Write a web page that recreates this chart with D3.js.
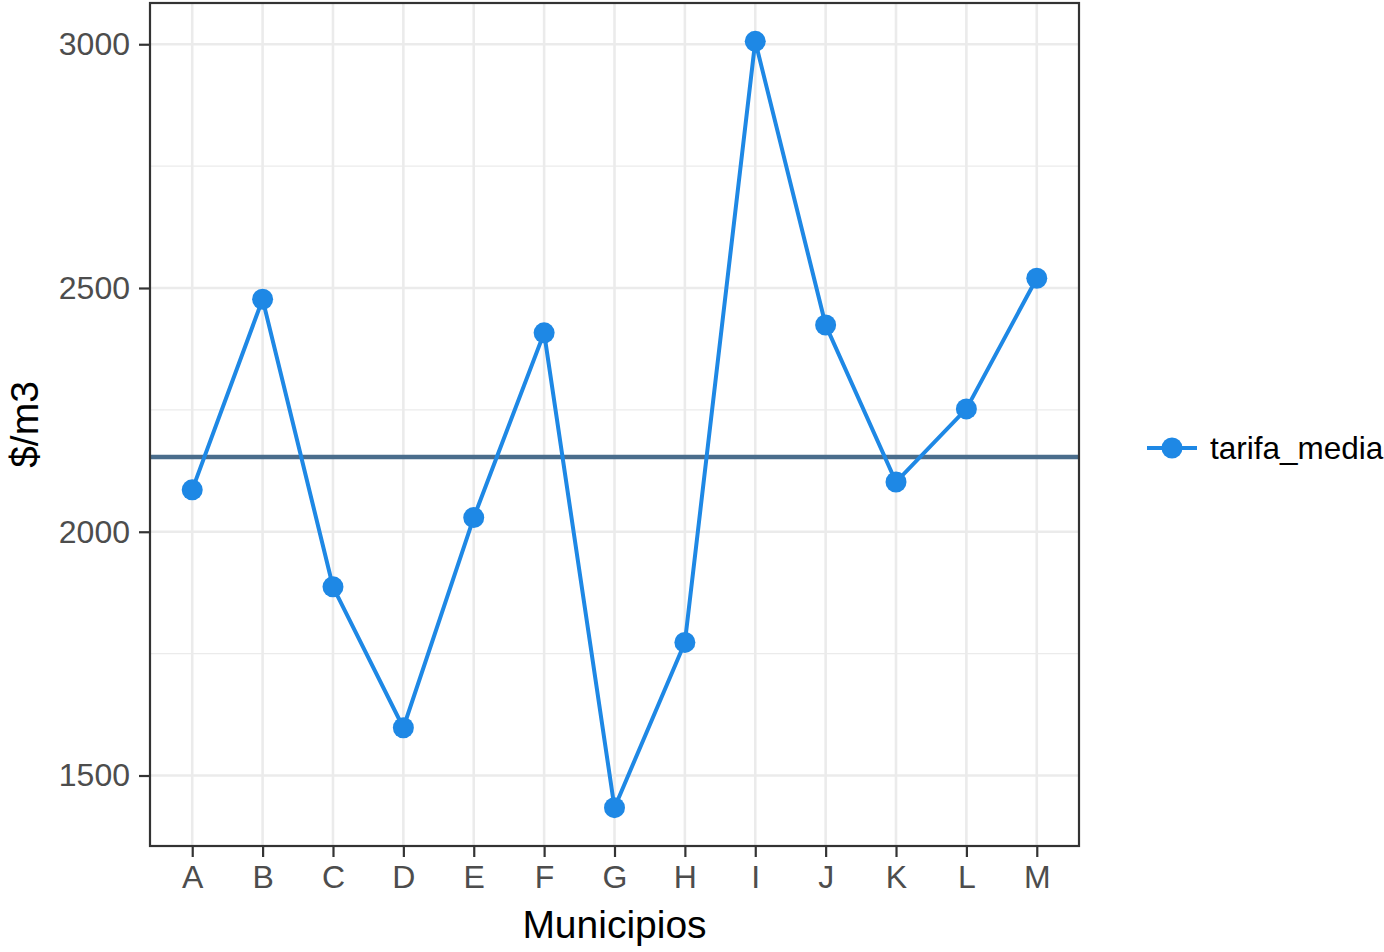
<!DOCTYPE html>
<html><head><meta charset="utf-8">
<script src="https://cdn.jsdelivr.net/npm/d3@7"></script>
<style>body{margin:0;background:#fff}svg{display:block}</style>
</head><body><svg id="c" width="1384" height="952"></svg>
<script>
const categories = ["A","B","C","D","E","F","G","H","I","J","K","L","M"];
const tarifa = [2086,2477,1887,1598,2029,2408,1434,1773,3006,2424,2102,2252,2520];
const yTicks = [1500,2000,2500,3000];
const yMinor = [1750,2250,2750];
const seriesName = "tarifa_media";
const meanValue = d3.mean(tarifa);

const svg = d3.select("#c");
const L=150, R=1079, T=3, B=846;
const x = d3.scalePoint().domain(categories).range([L,R]).padding(0.6);
const ext = d3.extent(tarifa), pad=(ext[1]-ext[0])*0.05;
const y = d3.scaleLinear().domain([ext[0]-pad, ext[1]+pad]).range([B,T]);
const font = "Arial, 'Liberation Sans', sans-serif";

const g = svg.append("g");
g.selectAll(".ym").data(yMinor).join("line").attr("x1",L).attr("x2",R).attr("y1",d=>y(d)).attr("y2",d=>y(d)).attr("stroke","#ebebeb").attr("stroke-width",1.3);
g.selectAll(".yM").data(yTicks).join("line").attr("x1",L).attr("x2",R).attr("y1",d=>y(d)).attr("y2",d=>y(d)).attr("stroke","#ebebeb").attr("stroke-width",2.6);
g.selectAll(".xM").data(categories).join("line").attr("x1",d=>x(d)).attr("x2",d=>x(d)).attr("y1",T).attr("y2",B).attr("stroke","#ebebeb").attr("stroke-width",2.6);

// mean line
g.append("line").attr("x1",L).attr("x2",R).attr("y1",y(meanValue)).attr("y2",y(meanValue)).attr("stroke","#4a6d8c").attr("stroke-width",4.5);

const line = d3.line().x((d,i)=>x(categories[i])).y(d=>y(d));
g.append("path").datum(tarifa).attr("d",line).attr("fill","none").attr("stroke","#1e88e5").attr("stroke-width",4);
g.selectAll(".pt").data(tarifa).join("circle").attr("cx",(d,i)=>x(categories[i])).attr("cy",d=>y(d)).attr("r",10.5).attr("fill","#1e88e5");

// panel border
g.append("rect").attr("x",L).attr("y",T).attr("width",R-L).attr("height",B-T).attr("fill","none").attr("stroke","#333").attr("stroke-width",2.2);

// axes
const xa = svg.append("g").attr("transform",`translate(0,${B})`).call(d3.axisBottom(x).tickSize(11).tickPadding(8));
const ya = svg.append("g").attr("transform",`translate(${L},0)`).call(d3.axisLeft(y).tickValues(yTicks).tickFormat(d3.format("d")).tickSize(11).tickPadding(9));
[xa,ya].forEach(a=>{a.select(".domain").remove();a.selectAll(".tick line").attr("stroke","#333").attr("stroke-width",2.2);a.selectAll("text").attr("fill","#4d4d4d").attr("font-size",32).attr("font-family",font);});
xa.selectAll("text").attr("dy","0.72em");

svg.append("text").attr("x",(L+R)/2).attr("y",938).attr("text-anchor","middle").attr("font-size",39).attr("font-family",font).attr("fill","#000").text("Municipios");
svg.append("text").attr("transform",`translate(38,${(T+B)/2}) rotate(-90)`).attr("text-anchor","middle").attr("font-size",39).attr("font-family",font).attr("fill","#000").text("$/m3");

// legend
const lg = svg.append("g").attr("transform","translate(1172,448)");
lg.append("line").attr("x1",-25).attr("x2",25).attr("stroke","#1e88e5").attr("stroke-width",4);
lg.append("circle").attr("r",10.5).attr("fill","#1e88e5");
lg.append("text").attr("x",38).attr("y",11).attr("font-size",31.5).attr("font-family",font).attr("fill","#000").text(seriesName);
</script></body></html>
